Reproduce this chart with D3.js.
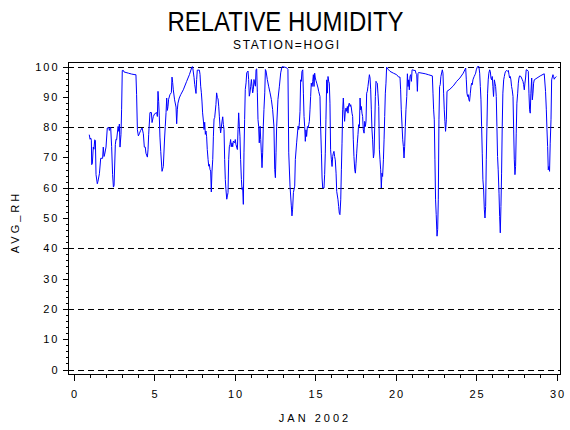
<!DOCTYPE html>
<html>
<head>
<meta charset="utf-8">
<script src="https://cdn.jsdelivr.net/npm/d3@7"></script>
<style>
  body { margin: 0; background: #fff; }
  svg { display: block; }
</style>
</head>
<body>
<div id="chart"></div>
<script>
// Relative humidity, station HOGI, January 2002
const xTicks = [0, 5, 10, 15, 20, 25, 30];
const yTicks = [0, 10, 20, 30, 40, 50, 60, 70, 80, 90, 100];
const gridLines = [0, 20, 40, 60, 80, 100];

const obsDay = [
  1.01, 1.06, 1.10, 1.14, 1.16, 1.20, 1.26, 1.30, 1.35, 1.39, 1.43, 1.51, 1.55, 1.64, 1.72, 1.84, 1.88, 1.93, 1.97, 2.05,
  2.13, 2.22, 2.26, 2.30, 2.34, 2.40, 2.46, 2.51, 2.55, 2.63, 2.67, 2.71, 2.80, 2.84, 2.88, 2.92, 2.98, 3.02, 3.06, 3.13,
  3.17, 3.44, 3.64, 3.85, 3.91, 3.95, 4.00, 4.06, 4.12, 4.20, 4.29, 4.37, 4.43, 4.49, 4.53, 4.62, 4.66, 4.70, 4.78, 4.87,
  4.91, 4.99, 5.07, 5.20, 5.24, 5.28, 5.32, 5.36, 5.40, 5.45, 5.53, 5.61, 5.69, 5.73, 5.78, 5.82, 5.86, 5.90, 5.94, 6.02,
  6.11, 6.15, 6.19, 6.23, 6.31, 6.40, 6.44, 6.48, 6.52, 6.60, 6.69, 6.85, 7.06, 7.23, 7.39, 7.43, 7.52, 7.56, 7.60, 7.64,
  7.68, 7.72, 7.85, 7.89, 7.93, 7.97, 8.01, 8.05, 8.10, 8.14, 8.18, 8.22, 8.26, 8.30, 8.34, 8.39, 8.43, 8.47, 8.51, 8.55,
  8.59, 8.63, 8.68, 8.72, 8.76, 8.80, 8.84, 8.88, 8.92, 8.97, 9.01, 9.05, 9.09, 9.13, 9.17, 9.21, 9.26, 9.30, 9.34, 9.38,
  9.42, 9.46, 9.50, 9.55, 9.59, 9.63, 9.67, 9.71, 9.75, 9.79, 9.83, 9.88, 9.92, 9.96, 10.04, 10.08, 10.12, 10.21, 10.25, 10.29,
  10.33, 10.37, 10.41, 10.46, 10.50, 10.54, 10.58, 10.62, 10.66, 10.70, 10.75, 10.79, 10.87, 10.91, 10.95, 10.99, 11.04, 11.08, 11.12, 11.16,
  11.20, 11.24, 11.28, 11.33, 11.37, 11.41, 11.45, 11.49, 11.53, 11.57, 11.62, 11.66, 11.70, 11.74, 11.78, 11.82, 11.86, 11.91, 11.95, 11.99,
  12.07, 12.15, 12.24, 12.32, 12.40, 12.48, 12.53, 12.57, 12.61, 12.65, 12.73, 12.82, 12.90, 12.98, 13.06, 13.27, 13.35, 13.40, 13.48, 13.56,
  13.60, 13.64, 13.69, 13.77, 13.81, 13.89, 13.98, 14.02, 14.06, 14.10, 14.14, 14.18, 14.22, 14.27, 14.31, 14.35, 14.39, 14.43, 14.47, 14.51,
  14.56, 14.60, 14.64, 14.68, 14.72, 14.76, 14.80, 14.85, 14.89, 14.93, 14.97, 15.01, 15.05, 15.09, 15.14, 15.22, 15.26, 15.34, 15.38, 15.43,
  15.47, 15.51, 15.59, 15.63, 15.67, 15.71, 15.76, 15.80, 15.84, 15.88, 15.92, 15.96, 16.00, 16.05, 16.09, 16.13, 16.17, 16.21, 16.25, 16.29,
  16.34, 16.38, 16.46, 16.50, 16.54, 16.58, 16.63, 16.67, 16.71, 16.75, 16.79, 16.83, 16.87, 16.92, 16.96, 17.00, 17.04, 17.08, 17.12, 17.16,
  17.21, 17.25, 17.29, 17.33, 17.37, 17.41, 17.45, 17.50, 17.54, 17.58, 17.62, 17.66, 17.70, 17.74, 17.79, 17.83, 17.87, 17.91, 17.95, 17.99,
  18.03, 18.08, 18.12, 18.16, 18.20, 18.24, 18.28, 18.32, 18.37, 18.41, 18.45, 18.49, 18.53, 18.57, 18.61, 18.66, 18.70, 18.74, 18.78, 18.82,
  18.86, 18.90, 18.94, 18.99, 19.03, 19.07, 19.11, 19.15, 19.19, 19.23, 19.28, 19.32, 19.36, 19.40, 19.44, 19.48, 19.57, 19.69, 19.90, 20.10,
  20.23, 20.31, 20.35, 20.39, 20.44, 20.48, 20.52, 20.56, 20.60, 20.64, 20.68, 20.73, 20.77, 20.81, 20.85, 20.89, 20.93, 20.97, 21.02, 21.06,
  21.10, 21.18, 21.26, 21.30, 21.35, 21.39, 21.43, 21.47, 21.68, 21.88, 22.07, 22.32, 22.36, 22.40, 22.44, 22.48, 22.52, 22.56, 22.61, 22.65,
  22.69, 22.73, 22.77, 22.81, 22.85, 22.94, 22.98, 23.02, 23.06, 23.10, 23.14, 23.19, 23.23, 23.41, 23.62, 23.83, 24.03, 24.24, 24.39, 24.43,
  24.47, 24.51, 24.55, 24.59, 24.63, 24.68, 24.72, 24.76, 24.80, 24.84, 24.88, 24.92, 24.97, 25.01, 25.05, 25.09, 25.13, 25.21, 25.26, 25.30,
  25.34, 25.38, 25.42, 25.46, 25.50, 25.55, 25.59, 25.63, 25.67, 25.71, 25.75, 25.79, 25.83, 25.88, 25.92, 25.96, 26.00, 26.04, 26.08, 26.12,
  26.17, 26.21, 26.25, 26.29, 26.33, 26.37, 26.41, 26.46, 26.50, 26.54, 26.58, 26.62, 26.66, 26.70, 26.75, 26.79, 26.83, 26.87, 26.91, 26.95,
  26.99, 27.04, 27.08, 27.12, 27.16, 27.20, 27.24, 27.28, 27.33, 27.37, 27.41, 27.45, 27.49, 27.53, 27.57, 27.62, 27.66, 27.70, 27.74, 27.82,
  27.91, 27.95, 27.99, 28.03, 28.07, 28.11, 28.15, 28.20, 28.28, 28.32, 28.36, 28.40, 28.44, 28.49, 28.53, 28.57, 28.61, 28.65, 28.82, 29.02,
  29.27, 29.35, 29.40, 29.44, 29.48, 29.52, 29.56, 29.60, 29.64, 29.69, 29.73, 29.81, 29.85, 29.89, 29.93, 30.02
];

const avgRh = [
  77.5, 76.0, 76.4, 75.7, 67.6, 67.9, 73.4, 72.7, 75.8, 75.6, 64.3, 61.3, 62.1, 64.6, 69.7, 69.7, 73.4, 70.3, 71.1, 73.4,
  79.7, 79.9, 78.9, 79.7, 79.9, 73.6, 64.3, 60.2, 60.7, 74.2, 76.0, 75.8, 80.2, 78.6, 81.0, 73.4, 77.5, 85.9, 98.7, 98.7,
  98.2, 97.8, 97.5, 97.3, 97.3, 90.7, 79.1, 77.1, 77.8, 78.9, 79.7, 77.8, 73.4, 73.4, 71.4, 70.1, 72.5, 77.5, 84.8, 84.8,
  81.5, 83.5, 84.4, 84.8, 83.5, 91.8, 88.5, 83.7, 76.7, 72.0, 65.4, 67.0, 76.4, 80.2, 84.8, 89.6, 85.5, 86.8, 89.2, 90.7,
  91.4, 96.5, 94.7, 92.3, 89.0, 86.6, 81.1, 85.7, 87.9, 89.6, 90.7, 92.3, 95.1, 97.3, 99.9, 99.9, 96.3, 94.1, 92.6, 91.1,
  95.7, 98.8, 98.8, 97.4, 93.5, 91.5, 88.6, 84.7, 82.0, 79.2, 81.6, 77.6, 78.7, 76.8, 72.6, 69.3, 67.1, 67.7, 66.0, 65.5,
  58.6, 65.2, 69.3, 77.0, 82.7, 83.1, 85.3, 87.5, 91.3, 89.7, 89.3, 86.9, 83.6, 80.3, 78.1, 79.8, 82.0, 83.4, 80.9, 79.2,
  69.3, 62.7, 59.4, 56.2, 57.3, 58.4, 69.3, 73.5, 74.3, 75.9, 73.5, 74.8, 73.5, 75.4, 74.8, 75.9, 74.3, 72.6, 79.2, 84.7,
  80.3, 77.0, 69.3, 62.7, 59.4, 60.0, 54.5, 71.5, 82.5, 92.4, 94.6, 97.9, 98.5, 95.7, 90.2, 91.3, 93.5, 95.7, 93.5, 91.3,
  92.4, 95.7, 94.6, 93.5, 99.0, 99.2, 91.3, 82.5, 80.3, 74.8, 80.3, 75.9, 71.5, 66.6, 71.5, 80.3, 85.8, 91.3, 99.0, 98.5,
  95.7, 93.5, 91.3, 89.1, 85.8, 80.3, 66.0, 63.3, 71.5, 80.3, 89.1, 93.5, 97.9, 99.9, 99.9, 99.6, 99.0, 71.5, 60.5, 54.0,
  50.7, 52.9, 58.4, 60.5, 69.3, 74.8, 80.3, 79.2, 81.4, 85.2, 95.6, 95.1, 98.4, 98.9, 91.2, 83.5, 80.2, 75.3, 79.1, 76.9,
  80.2, 79.7, 80.8, 81.9, 85.7, 90.1, 94.5, 93.4, 95.1, 97.3, 93.4, 97.8, 96.2, 95.4, 94.5, 92.9, 91.8, 90.1, 80.2, 71.4,
  63.2, 59.9, 59.9, 64.3, 71.4, 82.4, 95.6, 91.2, 96.7, 95.1, 94.5, 87.9, 72.5, 69.2, 67.0, 70.3, 71.4, 72.0, 70.3, 69.2,
  64.8, 58.8, 56.0, 53.8, 51.6, 51.1, 56.0, 65.9, 74.7, 85.7, 89.6, 85.7, 81.9, 85.7, 86.3, 85.2, 86.8, 84.6, 87.4, 87.9,
  86.8, 87.4, 86.3, 84.6, 83.5, 75.8, 70.3, 65.9, 64.8, 68.1, 71.4, 74.7, 77.5, 80.8, 80.2, 89.6, 85.7, 86.8, 84.6, 83.5,
  79.1, 78.0, 81.9, 80.2, 81.9, 91.2, 91.8, 93.4, 95.6, 97.3, 96.2, 92.3, 85.7, 79.1, 75.8, 69.8, 71.4, 80.2, 90.1, 95.1,
  94.7, 94.5, 91.2, 86.8, 72.5, 69.2, 65.9, 59.9, 64.8, 63.7, 69.2, 75.8, 83.5, 91.2, 94.5, 99.8, 99.1, 98.4, 97.8, 97.3,
  96.5, 96.5, 92.3, 85.7, 80.2, 75.8, 73.6, 69.8, 73.6, 80.2, 85.7, 90.1, 97.6, 93.4, 95.6, 92.3, 96.7, 97.3, 95.1, 98.9,
  98.9, 98.7, 98.7, 97.8, 97.3, 91.8, 97.8, 98.0, 97.8, 97.6, 97.3, 96.9, 91.2, 85.7, 82.4, 69.2, 56.0, 51.1, 44.0, 46.2,
  56.0, 82.4, 93.4, 94.0, 96.7, 98.9, 97.8, 91.2, 85.7, 81.9, 78.6, 82.4, 91.8, 92.5, 93.6, 95.1, 96.2, 97.8, 99.5, 95.6,
  91.2, 90.1, 90.7, 89.0, 88.5, 91.2, 93.4, 94.5, 94.0, 95.6, 96.2, 96.7, 97.3, 97.8, 98.9, 99.5, 100.0, 100.0, 97.8, 93.4,
  89.0, 80.2, 71.4, 62.6, 59.9, 52.7, 50.0, 53.8, 69.2, 80.2, 91.2, 95.6, 97.8, 98.9, 98.4, 96.2, 95.6, 96.7, 93.4, 90.1,
  95.6, 94.5, 93.4, 90.1, 80.2, 70.3, 65.9, 58.2, 50.5, 45.1, 53.8, 64.8, 80.2, 91.2, 95.6, 96.7, 97.8, 98.4, 98.6, 98.7,
  98.4, 98.7, 97.3, 96.2, 96.7, 95.6, 93.4, 92.3, 90.1, 79.1, 69.2, 64.3, 67.0, 78.0, 87.9, 91.2, 94.5, 96.2, 96.9, 96.7,
  95.6, 95.1, 94.0, 92.3, 94.5, 96.2, 98.9, 98.9, 98.4, 91.2, 85.7, 84.6, 91.2, 96.2, 89.0, 91.2, 94.5, 95.6, 96.2, 96.9,
  97.6, 91.8, 85.7, 79.1, 73.6, 65.9, 67.0, 65.4, 74.7, 82.4, 95.6, 97.3, 96.7, 95.8, 96.2, 96.7
];

const width = 570, height = 430;
const frame = { left: 68, top: 62, right: 560, bottom: 374 };
const labelFont = "'Liberation Sans', Arial, sans-serif";

const svg = d3.select("#chart")
    .append("svg")
    .attr("width", width)
    .attr("height", height);

const x = d3.scaleLinear().domain([0, 30]).range([73, 556]);
const y = d3.scaleLinear().domain([0, 100]).range([369.5, 66.5]);

// titles
svg.append("text")
    .attr("x", 285.5)
    .attr("y", 31)
    .attr("text-anchor", "middle")
    .attr("font-family", labelFont)
    .attr("font-size", "27px")
    .attr("textLength", 236)
    .attr("lengthAdjust", "spacingAndGlyphs")
    .attr("fill", "#000")
    .text("RELATIVE HUMIDITY");

svg.append("text")
    .attr("x", 286)
    .attr("y", 49)
    .attr("text-anchor", "middle")
    .attr("font-family", labelFont)
    .attr("font-size", "12px")
    .attr("textLength", 106)
    .attr("fill", "#000")
    .text("STATION=HOGI");

// dashed reference lines
svg.append("g")
    .selectAll("line")
    .data(gridLines)
    .enter()
    .append("line")
    .attr("x1", frame.left)
    .attr("x2", frame.right)
    .attr("y1", d => Math.round(y(d)) + 0.5)
    .attr("y2", d => Math.round(y(d)) + 0.5)
    .attr("stroke", "#000")
    .attr("stroke-width", 1)
    .attr("stroke-dasharray", "6,4");

// humidity trace
const line = d3.line()
    .x((d, i) => x(obsDay[i]))
    .y(d => y(d));

svg.append("path")
    .datum(avgRh)
    .attr("d", line)
    .attr("fill", "none")
    .attr("stroke", "#0000ff")
    .attr("stroke-width", 1);

// frame
svg.append("rect")
    .attr("x", frame.left + 0.5)
    .attr("y", frame.top + 0.5)
    .attr("width", frame.right - frame.left)
    .attr("height", frame.bottom - frame.top)
    .attr("fill", "none")
    .attr("stroke", "#000")
    .attr("stroke-width", 1);

// x axis: minor ticks every day, labelled every 5
const xMinor = d3.axisBottom(x).tickValues(d3.range(0, 31)).tickSize(3).tickFormat("");
const xMajor = d3.axisBottom(x).tickValues(xTicks).tickSize(6).tickPadding(10).tickFormat(d3.format("d"));

svg.append("g")
    .attr("transform", `translate(0.5, ${frame.bottom + 0.5})`)
    .call(xMinor)
    .call(g => g.select(".domain").remove());

const xg = svg.append("g")
    .attr("transform", `translate(0.5, ${frame.bottom + 0.5})`)
    .call(xMajor)
    .call(g => g.select(".domain").remove());

xg.selectAll("text")
    .attr("font-family", labelFont)
    .attr("font-size", "11px")
    .attr("letter-spacing", "2px")
    .attr("dx", "1px")
    .attr("fill", "#000");

// y axis: minor ticks every 2, labelled every 10
const yMinor = d3.axisLeft(y).tickValues(d3.range(0, 101, 2)).tickSize(3).tickFormat("");
const yMajor = d3.axisLeft(y).tickValues(yTicks).tickSize(6).tickPadding(5).tickFormat(d3.format("d"));

svg.append("g")
    .attr("transform", `translate(${frame.left + 0.5}, 0)`)
    .call(yMinor)
    .call(g => g.select(".domain").remove());

const yg = svg.append("g")
    .attr("transform", `translate(${frame.left + 0.5}, 0)`)
    .call(yMajor)
    .call(g => g.select(".domain").remove());

yg.selectAll("text")
    .attr("font-family", labelFont)
    .attr("font-size", "11px")
    .attr("letter-spacing", "2px")
    .attr("dx", "2px")
    .attr("fill", "#000");

svg.selectAll(".tick line").attr("stroke", "#000").attr("shape-rendering", "crispEdges");

// axis labels
svg.append("text")
    .attr("x", 315)
    .attr("y", 422)
    .attr("text-anchor", "middle")
    .attr("font-family", labelFont)
    .attr("font-size", "11px")
    .attr("letter-spacing", "3px")
    .attr("fill", "#000")
    .text("JAN 2002");

svg.append("text")
    .attr("transform", "translate(19, 222) rotate(-90)")
    .attr("text-anchor", "middle")
    .attr("font-family", labelFont)
    .attr("font-size", "11px")
    .attr("letter-spacing", "3px")
    .attr("fill", "#000")
    .text("AVG_RH");
</script>
</body>
</html>
